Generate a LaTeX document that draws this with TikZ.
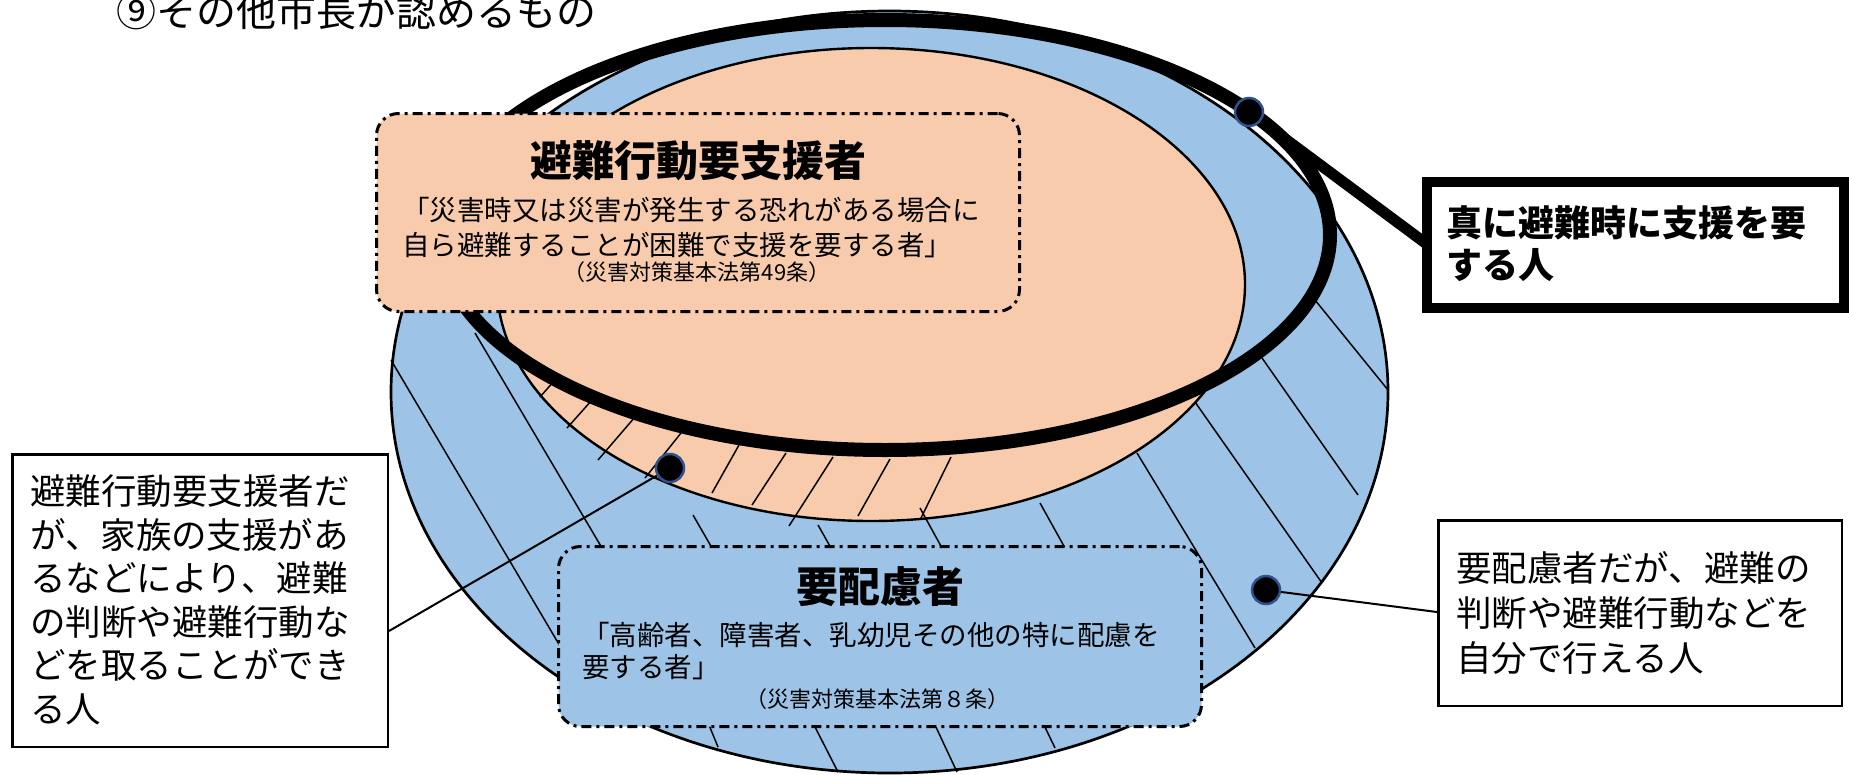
\documentclass[tikz,border=0pt]{standalone}
\usepackage{fontspec}
\setmainfont{Noto Sans CJK JP}
\definecolor{blu}{HTML}{9DC3E6}
\definecolor{org}{HTML}{F8CBAD}
\definecolor{dotline}{HTML}{2F528F}
\begin{document}
\begin{tikzpicture}[x=1pt,y=-1pt,
  hatch/.style={draw=black, line width=1.5pt},
  rbx/.style={draw=black, line width=3pt, dash pattern=on 10pt off 5pt on 3pt off 5pt, rounded corners=22pt, inner sep=0pt},
  lbx/.style={draw=black, line width=2.5pt, fill=white, inner sep=0pt},
  dotn/.style={circle, fill=black, draw=dotline, line width=2.5pt, minimum size=28pt, inner sep=0pt},
  conn/.style={draw=black, line width=2pt},
  txt/.style={inner sep=0pt, anchor=base west},
  ctxt/.style={inner sep=0pt, anchor=base},
  fs/.style={font=\fontsize{#1}{#1}\selectfont},
  bfs/.style={font=\bfseries\fontsize{#1}{#1}\selectfont}]
\useasboundingbox (0,0) rectangle (1849,774);

% title
\node[txt, fs=40] (ttl) at (116,26) {⑨その他市長が認めるもの};

% big blue ellipse
\path[fill=blu, draw=black, line width=2.7pt] (889.5,392) ellipse [x radius=498.5pt, y radius=381pt];
% orange ellipse
\path[fill=org, draw=black, line width=2.4pt] (871,284.5) ellipse [x radius=374pt, y radius=236.5pt];

% hatching in orange strip
\foreach \p/\q/\r/\s in {555/380/540/397, 592/400/567/428, 635/417/598/460, 681/433/645/478,
  739/445/712/493, 786/453/752/505, 833/457/789/526, 890/459/858/516, 951/457/921/518}
  \draw[hatch] (\p,\q) -- (\r,\s);
% hatching in blue area
\foreach \p/\q/\r/\s in {391/360/560/646, 475/333/602/548, 693/515/712/548, 818/525/831/548,
  920/508/942/548, 1040/503/1065/548, 1137/453/1255/648, 1195/402/1322/583, 1262/358/1358/495,
  1315/300/1388/390, 709/725/718/747, 814/725/838/772, 935/725/957/772, 1044/725/1055/748}
  \draw[hatch] (\p,\q) -- (\r,\s);

% thick ring
\draw[line width=14pt] (885,235) ellipse [x radius=445pt, y radius=215pt];

% rounded boxes
\node[rbx, fill=org, minimum width=643pt, minimum height=198pt] (obox) at (698,212.5) {};
\node[rbx, fill=blu, minimum width=643pt, minimum height=180pt] (cbox) at (880,636.5) {};

\node[ctxt, bfs=42] (ot1) at (698,176) {避難行動要支援者};
\node[txt, fs=27.5] (ot2) at (402,220.5) {「災害時又は災害が発生する恐れがある場合に};
\node[txt, fs=27.5] (ot3) at (402,255.5) {自ら避難することが困難で支援を要する者」};
\node[ctxt, fs=22] (ot4) at (697,280.4) {（災害対策基本法第49条）};

\node[ctxt, bfs=42] (ct1) at (880,602) {要配慮者};
\node[txt, fs=27.5] (ct2) at (582,645.5) {「高齢者、障害者、乳幼児その他の特に配慮を};
\node[txt, fs=27.5] (ct3) at (582,677.5) {要する者」};
\node[ctxt, fs=22] (ct4) at (877,707.4) {（災害対策基本法第８条）};

% dots
\node[dotn] (d1) at (1249,112) {};
\node[dotn] (d2) at (670,468) {};
\node[dotn] (d3) at (1266,590) {};

% label boxes
\node[draw=black, line width=10pt, fill=white, minimum width=417pt, minimum height=126pt, inner sep=0pt] (rbox) at (1635.5,245) {};
\node[lbx, minimum width=375.5pt, minimum height=292.5pt] (lbox) at (200,600.5) {};
\node[lbx, minimum width=403.5pt, minimum height=185.5pt] (qbox) at (1640,613) {};

% connectors
\draw[line width=11pt] (d1) -- ([xshift=6pt]rbox.west);
\draw[conn] (d2) -- ([yshift=-30.5pt]lbox.east);
\draw[conn] (d3) -- ([yshift=1pt]qbox.west);

% label texts
\node[txt, bfs=36] (r1) at (1446,236.7) {真に避難時に支援を要};
\node[txt, bfs=36] (r2) at (1446,278.7) {する人};

\foreach \t [count=\i] in {避難行動要支援者だ, が、家族の支援があ, るなどにより、避難, の判断や避難行動な, どを取ることができ, る人}
  \node[txt, fs=35.5] (l\i) at (30,{504.5+(\i-1)*43.6}) {\t};

\foreach \t [count=\i] in {要配慮者だが、避難の, 判断や避難行動などを, 自分で行える人}
  \node[txt, fs=35.5] (q\i) at (1456,{581.5+(\i-1)*45}) {\t};
\end{tikzpicture}
\end{document}
